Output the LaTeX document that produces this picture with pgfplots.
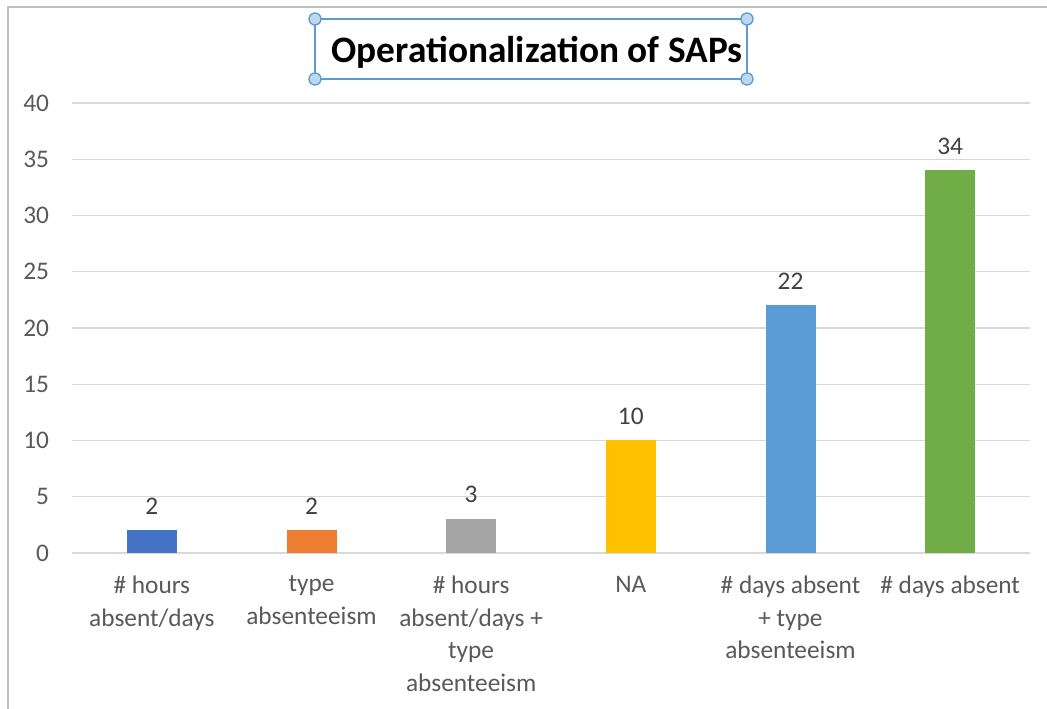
\documentclass[border=0pt]{standalone}
\usepackage{fontspec}
\setmainfont{Carlito}
\usepackage{pgfplots}
\pgfplotsset{compat=1.18}
\definecolor{gridgray}{HTML}{D9D9D9}
\definecolor{ticktext}{HTML}{595959}
\definecolor{labeltext}{HTML}{404040}
\definecolor{framegray}{HTML}{BFBFBF}
\definecolor{selblue}{HTML}{5B9BD5}
\definecolor{handlefill}{HTML}{BDD7EE}
\definecolor{barA}{HTML}{4472C4}
\definecolor{barB}{HTML}{ED7D31}
\definecolor{barC}{HTML}{A5A5A5}
\definecolor{barD}{HTML}{FFC000}
\definecolor{barE}{HTML}{5B9BD5}
\definecolor{barF}{HTML}{70AD47}

\begin{document}
\begin{tikzpicture}
  % page = 1047 x 709 px at 0.75pt per px
  \path[use as bounding box, fill=white] (0,0) rectangle (785.25pt,531.75pt);
  \draw[framegray, line width=1.3pt] (6pt,0) -- (6pt,526.5pt) -- (785.25pt,526.5pt);

  \begin{axis}[
      at={(54pt,117pt)}, anchor=south west,
      scale only axis,
      width=718.5pt, height=337.5pt,
      ybar, bar width=37.5pt, bar shift=0pt,
      xmin=-0.5, xmax=5.5,
      ymin=0, ymax=40,
      ytick={0,5,...,40},
      xtick={0,1,2,3,4,5},
      xticklabels={{\# hours\\absent/days},{type\\absenteeism},{\# hours\\absent/days +\\type\\absenteeism},{NA},{\# days absent\\+ type\\absenteeism},{\# days absent}},
      major tick length=0pt,
      axis line style={draw=none},
      ymajorgrids,
      grid style={gridgray, line width=0.9pt},
      clip=false,
      /pgf/number format/assume math mode=true,
      ticklabel style={font=\fontsize{19}{24.4}\selectfont, text=ticktext, inner sep=0pt},
      yticklabel style={anchor=east, xshift=-17pt},
      xticklabel style={anchor=north, align=center, yshift=-17pt},
      nodes near coords,
      every node near coord/.append style={font=\fontsize{19}{22}\selectfont, text=labeltext, anchor=south, inner sep=0pt, yshift=12pt},
    ]
    \addplot[fill=barA, draw=none] coordinates {(0,2)};
    \addplot[fill=barB, draw=none] coordinates {(1,2)};
    \addplot[fill=barC, draw=none] coordinates {(2,3)};
    \addplot[fill=barD, draw=none] coordinates {(3,10)};
    \addplot[fill=barE, draw=none] coordinates {(4,22)};
    \addplot[fill=barF, draw=none] coordinates {(5,34)};
  \end{axis}

  % title with selection box
  \draw[selblue, line width=1.5pt] (236.25pt,472.5pt) rectangle (560.25pt,517.5pt);
  \node[font=\fontsize{28}{32}\selectfont\bfseries, text=black] at (402.75pt,492.5pt) {Operationalization of SAPs};
  \foreach \px/\py in {236.25/472.5, 560.25/472.5, 236.25/517.5, 560.25/517.5}
    \filldraw[fill=handlefill, draw=selblue, line width=1pt] (\px pt,\py pt) circle (4.5pt);
\end{tikzpicture}
\end{document}
